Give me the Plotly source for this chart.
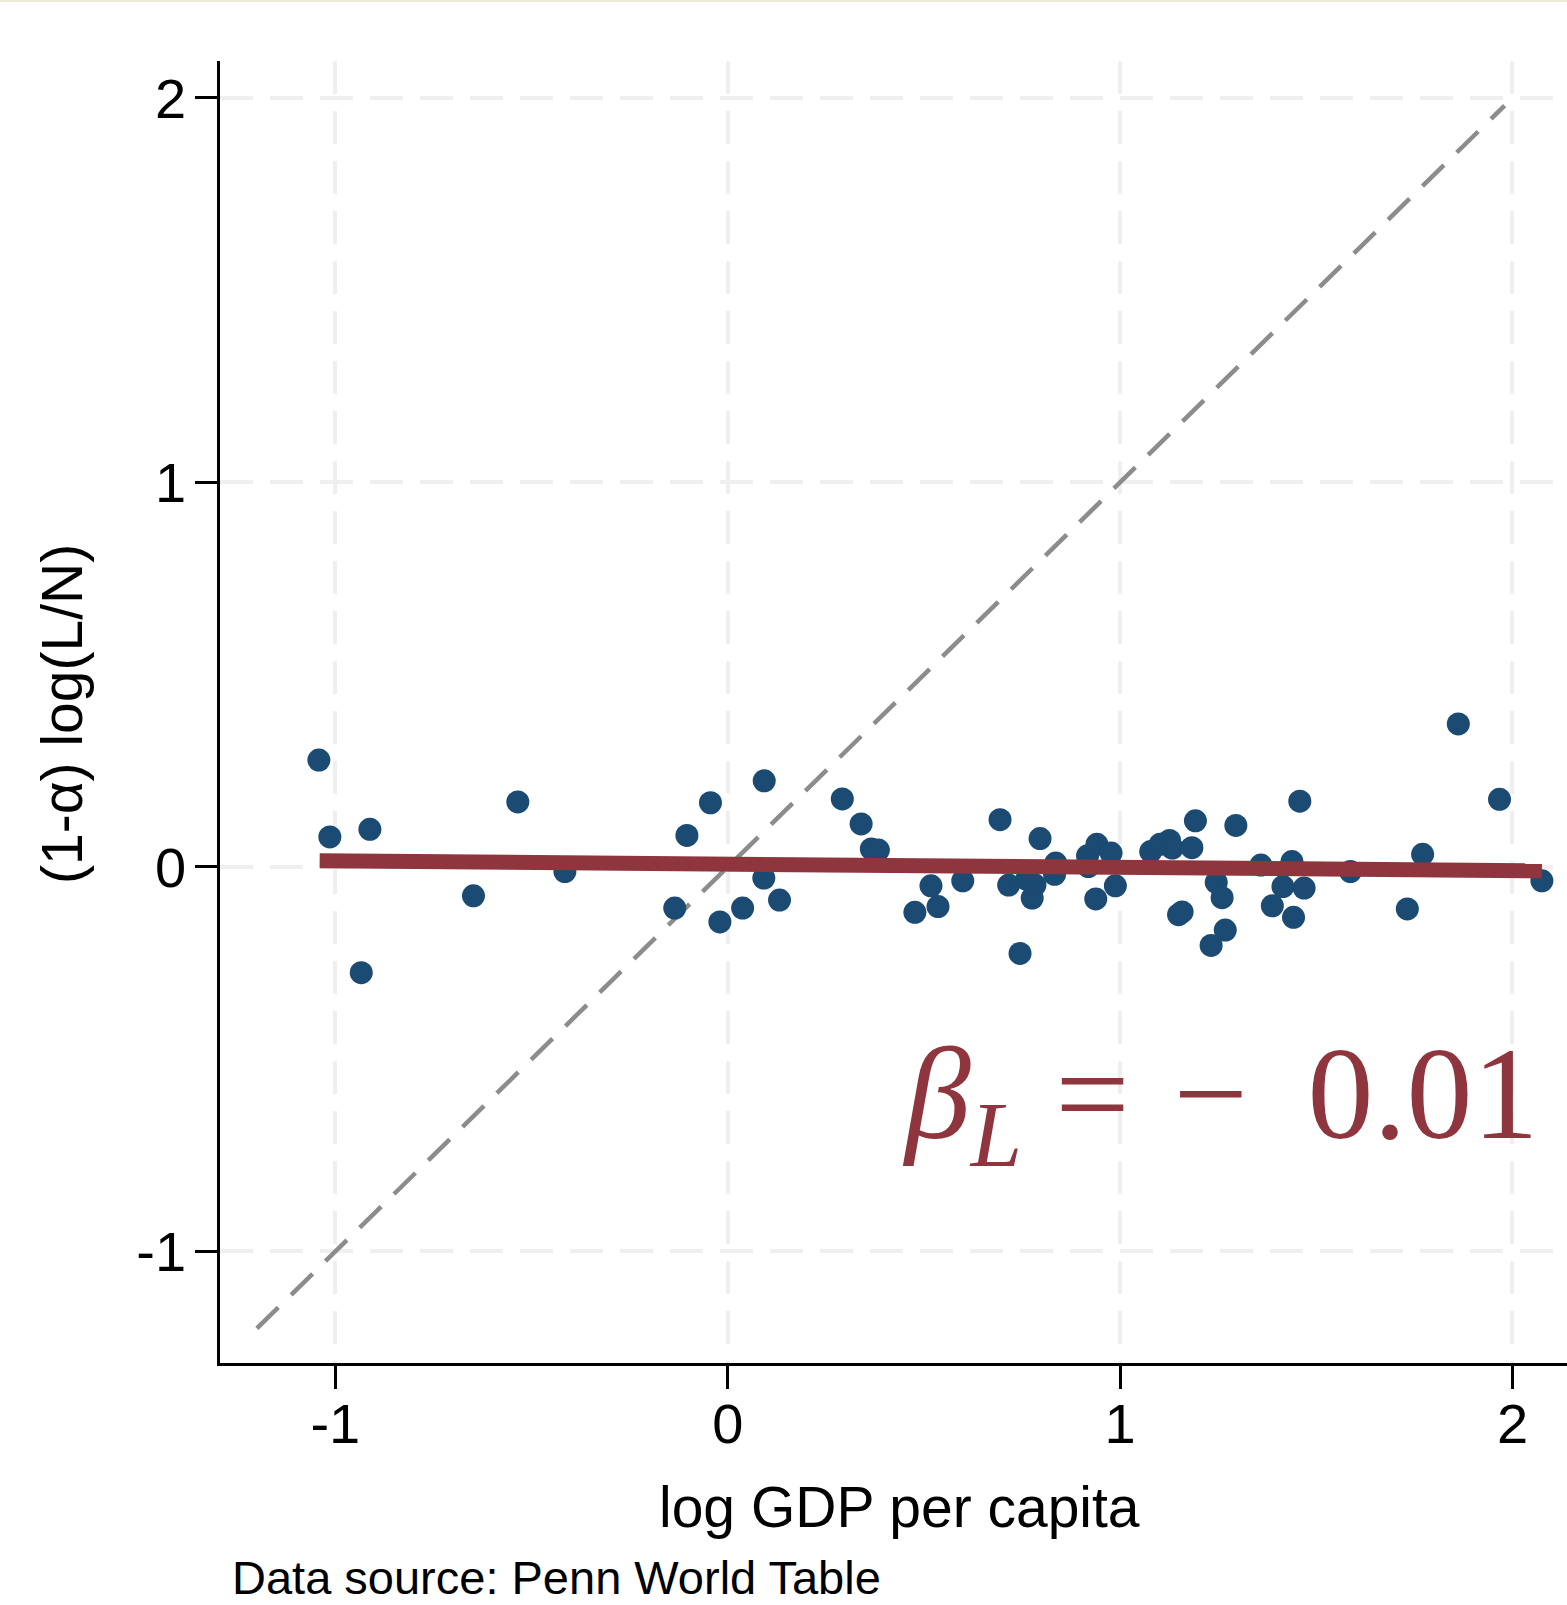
import plotly.graph_objects as go

# ---- data ----
x_vals = [-1.042, -1.014, -0.912, -0.934, -0.648, -0.535, -0.415, -0.135, -0.104, -0.044,
          -0.020, 0.038, 0.093, 0.092, 0.132, 0.292, 0.340, 0.366, 0.384, 0.477,
          0.518, 0.536, 0.599, 0.694, 0.716, 0.762, 0.783, 0.776, 0.745, 0.796,
          0.836, 0.833, 0.917, 0.919, 0.941, 0.977, 0.938, 0.988, 1.078, 1.102,
          1.126, 1.133, 1.183, 1.192, 1.149, 1.158, 1.245, 1.260, 1.268, 1.232,
          1.295, 1.359, 1.458, 1.438, 1.415, 1.469, 1.388, 1.442, 1.587, 1.732,
          1.771, 1.862, 1.967, 2.075]
y_vals = [0.278, 0.078, 0.098, -0.275, -0.075, 0.169, -0.012, -0.107, 0.082, 0.167,
          -0.143, -0.107, 0.224, -0.029, -0.086, 0.177, 0.112, 0.047, 0.044, -0.118,
          -0.049, -0.103, -0.036, 0.123, -0.047, -0.032, -0.047, -0.081, -0.225, 0.074,
          0.010, -0.019, 0.029, 0.001, 0.059, 0.036, -0.083, -0.049, 0.040, 0.059,
          0.069, 0.049, 0.050, 0.120, -0.124, -0.117, -0.040, -0.080, -0.164, -0.204,
          0.108, 0.005, 0.171, 0.014, -0.051, -0.055, -0.101, -0.131, -0.012, -0.109,
          0.033, 0.372, 0.176, -0.036]

fit_x = [-1.04, 2.075]
fit_y = [0.016, -0.010]

diag_x = [-1.2, 1.98]
diag_y = [-1.2, 1.98]

tick_vals = [-1, 0, 1, 2]
tick_text = ["-1", "0", "1", "2"]

x_title = "log GDP per capita"
y_title = "(1-α) log(L/N)"
source_note = "Data source: Penn World Table"
beta_label = "<i>β</i><sub><i>L</i></sub> = \u200a−\u2009 0.01"

NAVY = "#1b4a73"
RED = "#8f353d"
SANS = "Liberation Sans, Arial, Helvetica, sans-serif"

# layout geometry (pixels)
W, H = 1567, 1605
ML, MR, MT, MB = 220, 0, 61, 242
PW, PH = W - ML - MR, H - MT - MB

fig = go.Figure()
fig.add_trace(go.Scatter(x=diag_x, y=diag_y, mode="lines",
                         line=dict(color="#8c8c8c", width=4.5, dash="30px,18px"),
                         hoverinfo="skip", showlegend=False))
fig.add_trace(go.Scatter(x=x_vals, y=y_vals, mode="markers",
                         marker=dict(color=NAVY, size=23, line=dict(width=0)),
                         showlegend=False))
fig.add_trace(go.Scatter(x=fit_x, y=fit_y, mode="lines",
                         line=dict(color=RED, width=15),
                         showlegend=False))

fig.add_annotation(x=2.071, y=-0.615, xref="x", yref="y", text=beta_label,
                   showarrow=False, xanchor="right", yanchor="middle",
                   font=dict(family="Liberation Serif, DejaVu Serif, serif", size=132, color=RED))

# axis titles as annotations for precise placement
fig.add_annotation(x=(899 - ML) / PW, y=(MT + PH - 1507) / PH, xref="paper", yref="paper",
                   text=x_title, showarrow=False, xanchor="center", yanchor="middle",
                   font=dict(family=SANS, size=57, color="black"))
fig.add_annotation(x=(62 - ML) / PW, y=(MT + PH - 714) / PH, xref="paper", yref="paper",
                   text=y_title, showarrow=False, textangle=-90,
                   xanchor="center", yanchor="middle",
                   font=dict(family=SANS, size=57, color="black"))
fig.add_annotation(x=(230 - ML) / PW, y=(MT + PH - 1577) / PH, xref="paper", yref="paper",
                   text=source_note, showarrow=False,
                   xanchor="left", yanchor="middle",
                   font=dict(family=SANS, size=47, color="black"))

# thin beige strip at top of the image
fig.add_shape(type="rect", xref="paper", yref="paper",
              x0=-ML / PW, x1=1.0, y0=1 + (MT - 2) / PH, y1=1 + MT / PH,
              line=dict(width=0), fillcolor="#ece9dc")

axis_common = dict(
    tickmode="array", tickvals=tick_vals, ticktext=tick_text,
    showgrid=True, gridcolor="#efefef", gridwidth=3.5, griddash="33px,17px",
    zeroline=False, showline=True, linecolor="black", linewidth=2.5,
    ticks="outside", tickwidth=2.5, tickcolor="black", automargin=False,
    tickfont=dict(family=SANS, size=56, color="black"),
)

fig.update_xaxes(range=[-1.294, 2.139], ticklen=23, ticklabelstandoff=-13, **axis_common)
fig.update_yaxes(range=[-1.29, 2.096], ticklen=22, ticklabelstandoff=-2, **axis_common)

fig.update_layout(width=W, height=H,
                  margin=dict(l=ML, r=MR, t=MT, b=MB, autoexpand=False),
                  plot_bgcolor="white", paper_bgcolor="white")

fig.write_html("out.html", config={"displayModeBar": False},
               post_script="document.body.style.margin='0px';document.body.style.overflow='hidden';")
